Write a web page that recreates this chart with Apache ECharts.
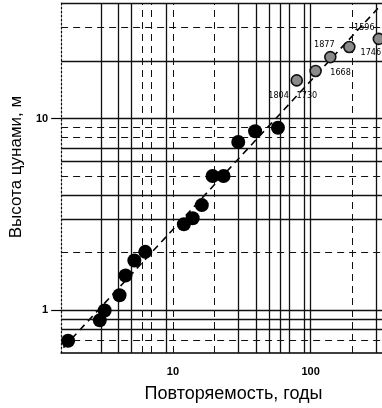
<!DOCTYPE html>
<html>
<head>
<meta charset="utf-8">
<title>Повторяемость цунами</title>
<script src="https://cdn.jsdelivr.net/npm/echarts@6/dist/echarts.min.js"></script>
<style>
  html, body { margin: 0; padding: 0; background: #fff; }
  #chart { width: 382px; height: 408px; }
</style>
</head>
<body>
<div id="chart"></div>
<script>
// наблюдаемые цунами (черные точки)
var periodObs = [1.73, 2.94, 3.19, 4.09, 4.52, 5.24, 6.29, 12.0, 13.9, 16.2, 19.4, 23.3, 29.8, 39.5, 57.9];
var heightObs = [0.695, 0.888, 1.0, 1.20, 1.52, 1.82, 2.02, 2.81, 3.02, 3.54, 5.02, 5.02, 7.54, 8.59, 8.95];

// исторические события (серые точки)
var periodHist = [79.3, 108.7, 139, 191, 313];
var heightHist = [15.8, 17.7, 20.9, 23.6, 26.0];
var yearsHist = ['1804   1730', '1668', '1877', '1596', '1746'];

// линия тренда
var trendX = [1.6, 308];
var trendY = [0.64, 37.5];

// подписи на осях
var xTickLabels = [10, 100];
var yTickLabels = [1, 10];

// линии сетки
var xGridSolid = [3, 4, 5, 9, 30, 40, 50, 60, 70, 90, 100, 300];
var xGridDashed = [6, 7, 10, 20, 200];
var yGridSolid = [0.8, 0.9, 1, 3, 4, 6, 7, 10, 20, 40];
var yGridDashed = [0.7, 2, 5, 8, 9, 30];

// смещения подписей годов (от центра точки)
var histLabelOffset = [[-4, 15], [25, 2], [-6, -12], [15, -19], [-8, 14]];

function pairs(xs, ys) {
  var out = [];
  for (var i = 0; i < xs.length; i++) out.push([xs[i], ys[i]]);
  return out;
}

function gridLines(values, key, dashed) {
  return {
    symbol: ['none', 'none'],
    silent: true,
    animation: false,
    label: { show: false },
    emphasis: { disabled: true },
    lineStyle: {
      color: '#111',
      width: dashed ? 1 : 1.3,
      type: dashed ? [7, 5] : 'solid'
    },
    data: values.map(function (v) { var o = {}; o[key] = v; return o; })
  };
}

function tickFormatter(list) {
  return function (v) {
    for (var i = 0; i < list.length; i++) {
      if (Math.abs(v - list[i]) < 1e-6 * list[i]) return String(list[i]);
    }
    return '';
  };
}

var histData = [];
for (var i = 0; i < periodHist.length; i++) {
  histData.push({
    value: [periodHist[i], heightHist[i]],
    label: { offset: histLabelOffset[i] }
  });
}

var font = '"Liberation Sans", Arial, sans-serif';

var options = {
  animation: false,
  grid: { left: 58, right: 0, top: 3, bottom: 53 },
  xAxis: {
    type: 'log',
    logBase: 10,
    min: 1.54,
    max: 330,
    name: 'Повторяемость, годы',
    nameLocation: 'middle',
    nameGap: 32,
    nameTextStyle: { fontFamily: font, fontSize: 18, color: '#000', padding: [0, 0, 0, 24] },
    axisLine: { show: true, lineStyle: { color: '#000', width: 1.5 } },
    axisTick: { show: false },
    axisLabel: {
      margin: 13,
      fontFamily: font,
      fontSize: 11,
      fontWeight: 'bold',
      color: '#000',
      showMinLabel: false,
      showMaxLabel: false,
      formatter: tickFormatter(xTickLabels)
    },
    splitLine: { show: false }
  },
  yAxis: {
    type: 'log',
    logBase: 10,
    min: 0.6,
    max: 40,
    name: 'Высота цунами, м',
    nameLocation: 'middle',
    nameGap: 33,
    nameTextStyle: { fontFamily: font, fontSize: 17, color: '#000', padding: [0, 0, 0, 22] },
    axisLine: { show: true, lineStyle: { color: '#111', width: 1.2, type: [2, 2] } },
    axisTick: { show: true, length: 10, lineStyle: { color: '#000', width: 1.2 } },
    axisLabel: {
      margin: 13,
      fontFamily: font,
      fontSize: 11,
      fontWeight: 'bold',
      color: '#000',
      showMinLabel: false,
      showMaxLabel: false,
      formatter: tickFormatter(yTickLabels)
    },
    splitLine: { show: false }
  },
  series: [
    // сетка
    { type: 'line', data: [], silent: true, markLine: gridLines(xGridSolid, 'xAxis', false) },
    { type: 'line', data: [], silent: true, markLine: gridLines(xGridDashed, 'xAxis', true) },
    { type: 'line', data: [], silent: true, markLine: gridLines(yGridSolid, 'yAxis', false) },
    { type: 'line', data: [], silent: true, markLine: gridLines(yGridDashed, 'yAxis', true) },
    // тренд
    {
      type: 'line',
      data: pairs(trendX, trendY),
      symbol: 'none',
      silent: true,
      z: 4,
      lineStyle: { color: '#000', width: 1.6, type: [7, 5] }
    },
    // наблюдения
    {
      type: 'scatter',
      data: pairs(periodObs, heightObs),
      symbolSize: 14,
      z: 6,
      itemStyle: { color: '#000', opacity: 1 }
    },
    // исторические
    {
      type: 'scatter',
      data: histData,
      symbolSize: 11,
      z: 6,
      itemStyle: { color: '#8a8a8a', borderColor: '#111', borderWidth: 1.6, opacity: 1 },
      label: {
        show: true,
        position: 'inside',
        align: 'center',
        verticalAlign: 'middle',
        fontFamily: '"Liberation Sans Narrow", "DejaVu Sans Condensed", sans-serif',
        fontSize: 9,
        color: '#000',
        formatter: function (p) { return yearsHist[p.dataIndex]; }
      }
    }
  ]
};

var chart = echarts.init(document.getElementById('chart'));
chart.setOption(options);
</script>
</body>
</html>
